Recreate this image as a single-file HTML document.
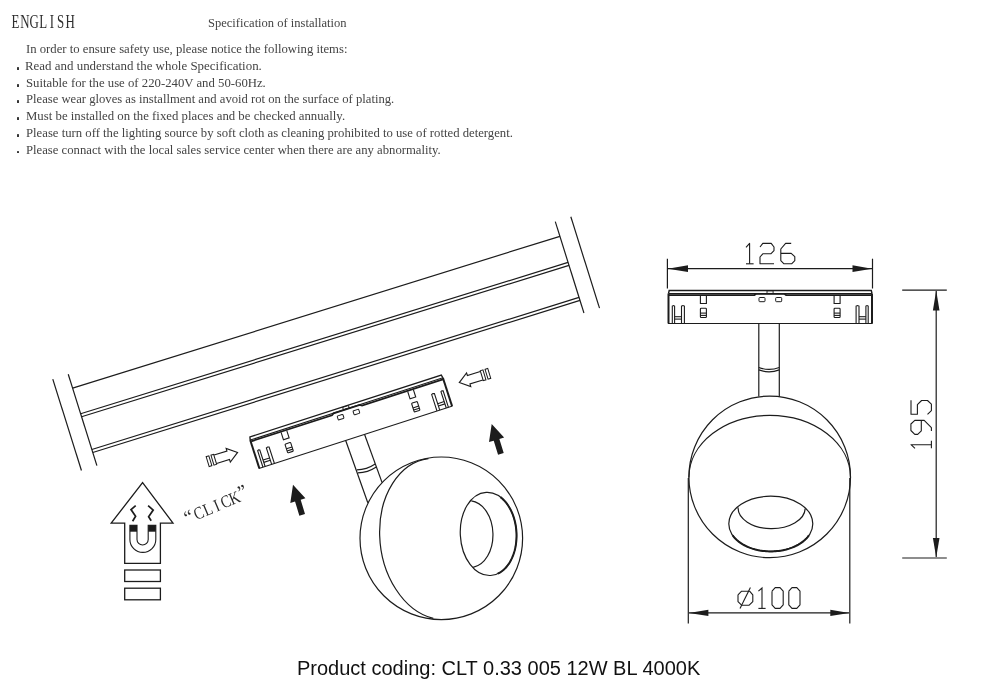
<!DOCTYPE html>
<html><head><meta charset="utf-8">
<style>
html,body{margin:0;padding:0;background:#fff;width:1000px;height:690px;overflow:hidden}
#wrap{position:absolute;left:0;top:0;width:1000px;height:690px;will-change:transform}
.t{position:absolute;white-space:nowrap;font-family:"Liberation Serif",serif;font-size:13.4px;line-height:1;color:#444;transform-origin:0 0}
.b{position:absolute;width:2.6px;height:2.6px;background:#333;border-radius:0.6px}
svg{position:absolute;left:0;top:0}
</style></head><body><div id="wrap">

<div class="t" id="spec" style="left:208.2px;top:15.8px;transform:scaleX(0.936)">Specification of installation</div>
<div class="t" id="l0" style="left:26.00px;top:42.3px;transform:scaleX(0.949)">In order to ensure safety use, please notice the following items:</div>
<div class="t" id="l1" style="left:25.00px;top:59.099999999999994px;transform:scaleX(0.965)">Read and understand the whole Specification.</div>
<div class="b" style="left:16.7px;top:67.39999999999999px"></div>
<div class="t" id="l2" style="left:26.00px;top:75.9px;transform:scaleX(0.952)">Suitable for the use of 220-240V and 50-60Hz.</div>
<div class="b" style="left:16.7px;top:84.2px"></div>
<div class="t" id="l3" style="left:26.20px;top:92.1px;transform:scaleX(0.944)">Please wear gloves as installment and avoid rot on the surface of plating.</div>
<div class="b" style="left:16.7px;top:100.39999999999999px"></div>
<div class="t" id="l4" style="left:26.20px;top:108.9px;transform:scaleX(0.955)">Must be installed on the fixed places and be checked annually.</div>
<div class="b" style="left:16.7px;top:117.2px"></div>
<div class="t" id="l5" style="left:26.20px;top:125.69999999999999px;transform:scaleX(0.949)">Please turn off the lighting source by soft cloth as cleaning prohibited to use of rotted detergent.</div>
<div class="b" style="left:16.7px;top:134.0px"></div>
<div class="t" id="l6" style="left:26.20px;top:142.5px;transform:scaleX(0.948)">Please connact with the local sales service center when there are any abnormality.</div>
<div class="b" style="left:16.7px;top:150.8px"></div>
<svg width="1000" height="690" viewBox="0 0 1000 690">
<g transform="translate(72.5,387.8) rotate(-17.4)" stroke="#1c1c1c" stroke-width="1.2" fill="none">
<line x1="-16.2" y1="-14.2" x2="-16.2" y2="81.6"/>
<line x1="0" y1="-14.2" x2="0" y2="81.6"/>
<line x1="510.4" y1="-14.2" x2="510.4" y2="81.6"/>
<line x1="526.7" y1="-14.2" x2="526.7" y2="81.6"/>
<line x1="0" y1="0.4" x2="510.4" y2="1.2000000000000002"/>
<line x1="0" y1="27.2" x2="510.4" y2="28.5"/>
<line x1="0" y1="30.3" x2="510.4" y2="31.6"/>
<line x1="0" y1="64.7" x2="510.4" y2="65.2"/>
<line x1="0" y1="67.8" x2="510.4" y2="68.3"/>
</g>
<g transform="translate(668,290.5)"><g fill="none" stroke="#1c1c1c" stroke-width="1.1">
<polyline points="0.5,3 1.2,0 203.3,0 204.0,3" stroke-width="1.4"/>
<line x1="0.5" y1="3" x2="0.5" y2="33" stroke-width="2"/>
<line x1="204.0" y1="3" x2="204.0" y2="33" stroke-width="2"/>
<line x1="0" y1="33" x2="204.5" y2="33"/>
<line x1="0.5" y1="3.1" x2="204.0" y2="3.1"/>
<polyline points="1,4.6 86.4,4.6 88.4,3.3 116.1,3.3 118.1,4.6 203.5,4.6" stroke-width="1.8"/>
<rect x="99" y="0.3" width="6.1" height="2.6" stroke-width="0.9"/>
<rect x="91" y="7" width="6" height="4.2" rx="0.8" stroke-width="1"/>
<rect x="107.7" y="7" width="6" height="4.2" rx="0.8" stroke-width="1"/>
<polyline points="32.4,5.3 32.4,13 38.4,13 38.4,5.3"/>
<rect x="32.4" y="17.7" width="6" height="9.3" rx="0.8"/>
<line x1="32.4" y1="22.6" x2="38.4" y2="22.6"/>
<line x1="32.4" y1="24.9" x2="38.4" y2="24.9"/>
<polyline points="4.3,33 4.3,15.6 5.449999999999999,15.1 6.6,15.6 6.6,33"/>
<polyline points="13.5,33 13.5,15.6 14.95,15.1 16.4,15.6 16.4,33"/>
<line x1="6.6" y1="26.2" x2="13.5" y2="26.2"/>
<line x1="6.6" y1="28.6" x2="13.5" y2="28.6"/>
<polyline points="172.1,5.3 172.1,13 166.1,13 166.1,5.3"/>
<rect x="166.1" y="17.7" width="6" height="9.3" rx="0.8"/>
<line x1="172.1" y1="22.6" x2="166.1" y2="22.6"/>
<line x1="172.1" y1="24.9" x2="166.1" y2="24.9"/>
<polyline points="200.2,33 200.2,15.6 199.05,15.1 197.9,15.6 197.9,33"/>
<polyline points="191.0,33 191.0,15.6 189.55,15.1 188.1,15.6 188.1,33"/>
<line x1="197.9" y1="26.2" x2="191.0" y2="26.2"/>
<line x1="197.9" y1="28.6" x2="191.0" y2="28.6"/>
</g></g>
<g transform="translate(248.8,437.3) rotate(-17.9) scale(0.995)"><g fill="none" stroke="#1c1c1c" stroke-width="1.1">
<polyline points="0.5,3 1.2,0 203.3,0 204.0,3" stroke-width="1.4"/>
<line x1="0.5" y1="3" x2="0.5" y2="33" stroke-width="2"/>
<line x1="204.0" y1="3" x2="204.0" y2="33" stroke-width="2"/>
<line x1="0" y1="33" x2="204.5" y2="33"/>
<line x1="0.5" y1="3.1" x2="204.0" y2="3.1"/>
<polyline points="1,4.6 86.4,4.6 88.4,3.3 116.1,3.3 118.1,4.6 203.5,4.6" stroke-width="1.8"/>
<rect x="99" y="0.3" width="6.1" height="2.6" stroke-width="0.9"/>
<rect x="91" y="7" width="6" height="4.2" rx="0.8" stroke-width="1"/>
<rect x="107.7" y="7" width="6" height="4.2" rx="0.8" stroke-width="1"/>
<polyline points="32.4,5.3 32.4,13 38.4,13 38.4,5.3"/>
<rect x="32.4" y="17.7" width="6" height="9.3" rx="0.8"/>
<line x1="32.4" y1="22.6" x2="38.4" y2="22.6"/>
<line x1="32.4" y1="24.9" x2="38.4" y2="24.9"/>
<polyline points="4.3,33 4.3,15.6 5.449999999999999,15.1 6.6,15.6 6.6,33"/>
<polyline points="13.5,33 13.5,15.6 14.95,15.1 16.4,15.6 16.4,33"/>
<line x1="6.6" y1="26.2" x2="13.5" y2="26.2"/>
<line x1="6.6" y1="28.6" x2="13.5" y2="28.6"/>
<polyline points="172.1,5.3 172.1,13 166.1,13 166.1,5.3"/>
<rect x="166.1" y="17.7" width="6" height="9.3" rx="0.8"/>
<line x1="172.1" y1="22.6" x2="166.1" y2="22.6"/>
<line x1="172.1" y1="24.9" x2="166.1" y2="24.9"/>
<polyline points="200.2,33 200.2,15.6 199.05,15.1 197.9,15.6 197.9,33"/>
<polyline points="191.0,33 191.0,15.6 189.55,15.1 188.1,15.6 188.1,33"/>
<line x1="197.9" y1="26.2" x2="191.0" y2="26.2"/>
<line x1="197.9" y1="28.6" x2="191.0" y2="28.6"/>
</g></g>
<g stroke="#1c1c1c" stroke-width="1.2" fill="none">
<line x1="345.6" y1="440.2" x2="367.8" y2="502.8"/>
<line x1="364.5" y1="434.3" x2="382.1" y2="482.6"/>
<path d="M356.9,469.8 Q366.6,469.6 375.2,463.9"/>
<path d="M357.9,472.9 Q367.6,472.7 376.3,467"/>
<circle cx="441.3" cy="538.3" r="81.3"/>
<path d="M428.4,458.6 A59 81.1 -7.7 0 0 433.3,618.4"/>
<ellipse cx="488.4" cy="533.9" rx="28.1" ry="41.65" transform="rotate(-3 488.4 533.9)" stroke-width="1.2"/>
<path d="M500.54,497.14 L501.53,497.94 L502.50,498.79 L503.44,499.69 L504.37,500.65 L505.26,501.66 L506.14,502.72 L506.98,503.82 L507.80,504.98 L508.58,506.17 L509.34,507.41 L510.06,508.69 L510.75,510.01 L511.40,511.37 L512.02,512.76 L512.60,514.18 L513.15,515.64 L513.66,517.12 L514.12,518.63 L514.55,520.16 L514.94,521.71 L515.29,523.29 L515.59,524.87 L515.86,526.48 L516.08,528.09 L516.26,529.71 L516.39,531.34 L516.49,532.97 L516.54,534.61 L516.54,536.24 L516.51,537.87 L516.43,539.49 L516.30,541.11 L516.13,542.71 L515.93,544.30 L515.67,545.88 L515.38,547.43 L515.04,548.97 L514.67,550.48 L514.25,551.96 L513.79,553.42 L513.30,554.85 L512.76,556.25 L512.19,557.61 L511.58,558.93 L510.93,560.22 L510.26,561.46 L509.54,562.67 L508.80,563.83 L508.02,564.94 L507.21,566.00 L506.38,567.02 L505.51,567.98 L504.62,568.89 L503.71,569.75 L502.77,570.55 L501.80,571.30 L500.82,571.99 L499.82,572.62 L498.80,573.19 L497.77,573.70" stroke-width="2"/>
<path d="M471.3,500.9 A23.2 33.4 -1.7 0 1 473.1,567.3"/>
</g>
<g stroke="#1c1c1c" stroke-width="1.2" fill="none">
<line x1="758.8" y1="323.5" x2="758.8" y2="396.6"/>
<line x1="779.3" y1="323.5" x2="779.3" y2="396.6"/>
<path d="M758.8,367.5 Q769,371.3 779.3,367.5"/>
<path d="M758.8,369.9 Q769,373.7 779.3,369.9"/>
<circle cx="769.7" cy="476.9" r="80.8"/>
<path d="M688.9,477.4 A80.8 62 0 0 1 850.5,477.4"/>
<ellipse cx="770.8" cy="523.8" rx="42" ry="27.6" stroke-width="1.2"/>
<path d="M808.86,535.46 L808.17,536.40 L807.41,537.32 L806.61,538.22 L805.76,539.10 L804.85,539.96 L803.90,540.79 L802.90,541.60 L801.85,542.39 L800.76,543.15 L799.62,543.88 L798.45,544.58 L797.23,545.25 L795.98,545.89 L794.69,546.50 L793.37,547.08 L792.01,547.62 L790.63,548.13 L789.21,548.61 L787.77,549.05 L786.31,549.45 L784.82,549.82 L783.31,550.15 L781.79,550.44 L780.25,550.69 L778.69,550.91 L777.13,551.08 L775.55,551.22 L773.97,551.32 L772.39,551.38 L770.80,551.40 L769.21,551.38 L767.63,551.32 L766.05,551.22 L764.47,551.08 L762.91,550.91 L761.35,550.69 L759.81,550.44 L758.29,550.15 L756.78,549.82 L755.29,549.45 L753.83,549.05 L752.39,548.61 L750.97,548.13 L749.59,547.62 L748.23,547.08 L746.91,546.50 L745.62,545.89 L744.37,545.25 L743.15,544.58 L741.98,543.88 L740.84,543.15 L739.75,542.39 L738.70,541.60 L737.70,540.79 L736.75,539.96 L735.84,539.10 L734.99,538.22 L734.19,537.32 L733.43,536.40 L732.74,535.46" stroke-width="2"/>
<path d="M738.1,507.4 A33.5 20.6 0 0 0 805.2,508.6"/>
</g>
<g stroke="#1c1c1c" stroke-width="1.2" fill="none">
<line x1="667.4" y1="258.7" x2="667.4" y2="288.5"/>
<line x1="872.5" y1="258.7" x2="872.5" y2="288.5"/>
<line x1="668" y1="268.7" x2="872" y2="268.7"/>
<line x1="902.2" y1="290.1" x2="946.8" y2="290.1"/>
<line x1="902.2" y1="558" x2="946.8" y2="558"/>
<line x1="936.2" y1="291" x2="936.2" y2="557"/>
<line x1="688.3" y1="478" x2="688.3" y2="623.6"/>
<line x1="849.8" y1="478" x2="849.8" y2="623.6"/>
<line x1="689" y1="612.9" x2="849" y2="612.9"/>
</g>
<g fill="#1c1c1c">
<polygon points="667.8,268.7 688,265.3 688,272.1"/>
<polygon points="872,268.7 852.5,265.3 852.5,272.1"/>
<polygon points="936.2,290.6 932.9,310.4 939.5,310.4"/>
<polygon points="936.2,557.5 932.9,538 939.5,538"/>
<polygon points="688.8,612.9 708.4,609.8 708.4,616"/>
<polygon points="849.3,612.9 830.3,609.8 830.3,616"/>
</g>
<g transform="translate(746,263.8)" fill="none" stroke="#1c1c1c" stroke-width="1.1" stroke-linejoin="round">
<polyline points="0.00,-16.40 3.60,-20.40 3.60,0.00"/>
<polyline points="0.00,0.00 7.60,0.00"/>
<polyline points="14.00,-16.80 16.80,-20.40 25.20,-20.40 28.00,-16.80 28.00,-13.20 24.80,-10.00 16.80,-10.00 14.00,-6.80 14.00,0.00 28.00,0.00"/>
<polyline points="45.20,-20.40 39.60,-20.40 34.80,-14.80 34.80,-3.20 38.00,0.00 45.60,0.00 48.80,-3.20 48.80,-7.20 45.20,-10.40 34.80,-10.40"/>
</g>
<g transform="translate(931.4,448.3) rotate(-90)" fill="none" stroke="#1c1c1c" stroke-width="1.1" stroke-linejoin="round">
<polyline points="0.00,-16.40 3.60,-20.40 3.60,0.00"/>
<polyline points="0.00,0.00 7.60,0.00"/>
<polyline points="17.40,0.00 20.70,0.00 27.90,-7.20 27.90,-16.60 24.30,-20.50 17.80,-20.50 13.90,-16.60 13.90,-13.70 17.40,-10.10 27.90,-10.10"/>
<polyline points="48.10,-20.40 34.00,-20.40 34.00,-14.00 43.70,-14.00 47.80,-9.80 47.80,-3.90 44.20,0.00 37.70,0.00 34.00,-3.90"/>
</g>
<g transform="translate(738,608.4)" fill="none" stroke="#1c1c1c" stroke-width="1.1" stroke-linejoin="round">
<polyline points="0.00,-13.60 3.60,-17.20 11.60,-17.20 14.80,-13.60 14.80,-6.80 11.20,-3.20 3.60,-3.20 0.00,-6.80 0.00,-13.60"/>
</g>
<line x1="750.4" y1="587.6" x2="740" y2="608.4" stroke="#1c1c1c" stroke-width="1.1"/>
<polyline points="758.4,591.2 762,588 762,608.4" fill="none" stroke="#1c1c1c" stroke-width="1.1"/>
<line x1="758.4" y1="608.4" x2="765.6" y2="608.4" stroke="#1c1c1c" stroke-width="1.1"/>
<g transform="translate(772,608.4)" fill="none" stroke="#1c1c1c" stroke-width="1.1" stroke-linejoin="round">
<polyline points="0.00,-17.20 3.20,-20.80 8.00,-20.80 11.20,-17.20 11.20,-3.60 8.00,0.00 3.20,0.00 0.00,-3.60 0.00,-17.20"/>
<polyline points="16.80,-17.20 20.00,-20.80 24.80,-20.80 28.00,-17.20 28.00,-3.60 24.80,0.00 20.00,0.00 16.80,-3.60 16.80,-17.20"/>
</g>
<g fill="none" stroke="#1c1c1c" stroke-width="1.3">
<polygon points="142.6,482.6 173,523.1 160.4,523.1 160.4,563.3 124.7,563.3 124.7,523.1 111.2,523.1"/>
<rect x="124.7" y="570" width="35.7" height="11.5"/>
<rect x="124.7" y="588.2" width="35.7" height="11.6"/>
<path d="M129.9,525.3 V539.45 A12.95 12.95 0 0 0 155.8,539.45 V525.3 H148.2 V539.45 A5.6 5.6 0 0 1 137,539.45 V525.3 Z" stroke-width="1.1"/>
<polyline points="135.7,505.6 131,509.6 135.6,516.2 132.6,521.2" stroke-width="1.7"/>
<polyline points="148.1,505.6 153.2,510.1 148.6,516.7 151.2,520.8" stroke-width="1.7"/>
</g>
<rect x="129.9" y="525.1" width="7.1" height="6.6" fill="#1c1c1c"/>
<rect x="148.2" y="525.1" width="7.6" height="6.6" fill="#1c1c1c"/>
<g transform="translate(237.6,452.4) rotate(-17)" fill="none" stroke="#1c1c1c" stroke-width="1.1" stroke-linejoin="miter"><polyline points="-23.3,-4.4 -9.8,-4.4 -9.8,-7.2 0,0 -9.8,7.2 -9.8,4.4 -23.3,4.4"/><rect x="-26.3" y="-5.2" width="2.8" height="10.4" stroke-width="1"/><rect x="-31.3" y="-5.2" width="2.8" height="10.4" stroke-width="1"/></g>
<g transform="translate(459.3,382.6) rotate(163)" fill="none" stroke="#1c1c1c" stroke-width="1.1" stroke-linejoin="miter"><polyline points="-23.3,-4.4 -9.8,-4.4 -9.8,-7.2 0,0 -9.8,7.2 -9.8,4.4 -23.3,4.4"/><rect x="-26.3" y="-5.2" width="2.8" height="10.4" stroke-width="1"/><rect x="-31.3" y="-5.2" width="2.8" height="10.4" stroke-width="1"/></g>
<g transform="translate(293,484.8) rotate(-17)" fill="#1c1c1c"><polygon points="0,0 7.9,16.6 2.95,16.6 2.95,31.4 -2.95,31.4 -2.95,16.6 -7.9,16.6"/></g>
<g transform="translate(491.7,423.9) rotate(-17)" fill="#1c1c1c"><polygon points="0,0 7.9,16.6 2.95,16.6 2.95,31.4 -2.95,31.4 -2.95,16.6 -7.9,16.6"/></g>
<text transform="translate(0,27.6) scale(0.68,1)" x="22.65 36.76 50.29 63.53 76.18 88.97 103.24" y="0" text-anchor="middle" font-family="Liberation Serif" font-size="19" fill="#2e2e2e">ENGLISH</text>
<g transform="translate(201,518.3) rotate(-23)" font-family="Liberation Serif" fill="#2a2a2a" text-anchor="middle"><text x="-10.8" y="0.2" font-size="19">&#8220;</text><text x="0.00 11.83 23.66 35.49 47.32" y="0" font-size="17.5" transform="scale(0.82,1)">CLICK</text><text x="48.6" y="-2" font-size="19">&#8221;</text></g>
</svg>
<div class="t" id="prod" style="font-family:'Liberation Sans',sans-serif;font-size:20px;color:#111;left:297px;top:657.5px">Product coding: CLT 0.33 005 12W BL 4000K</div>
</div></body></html>
